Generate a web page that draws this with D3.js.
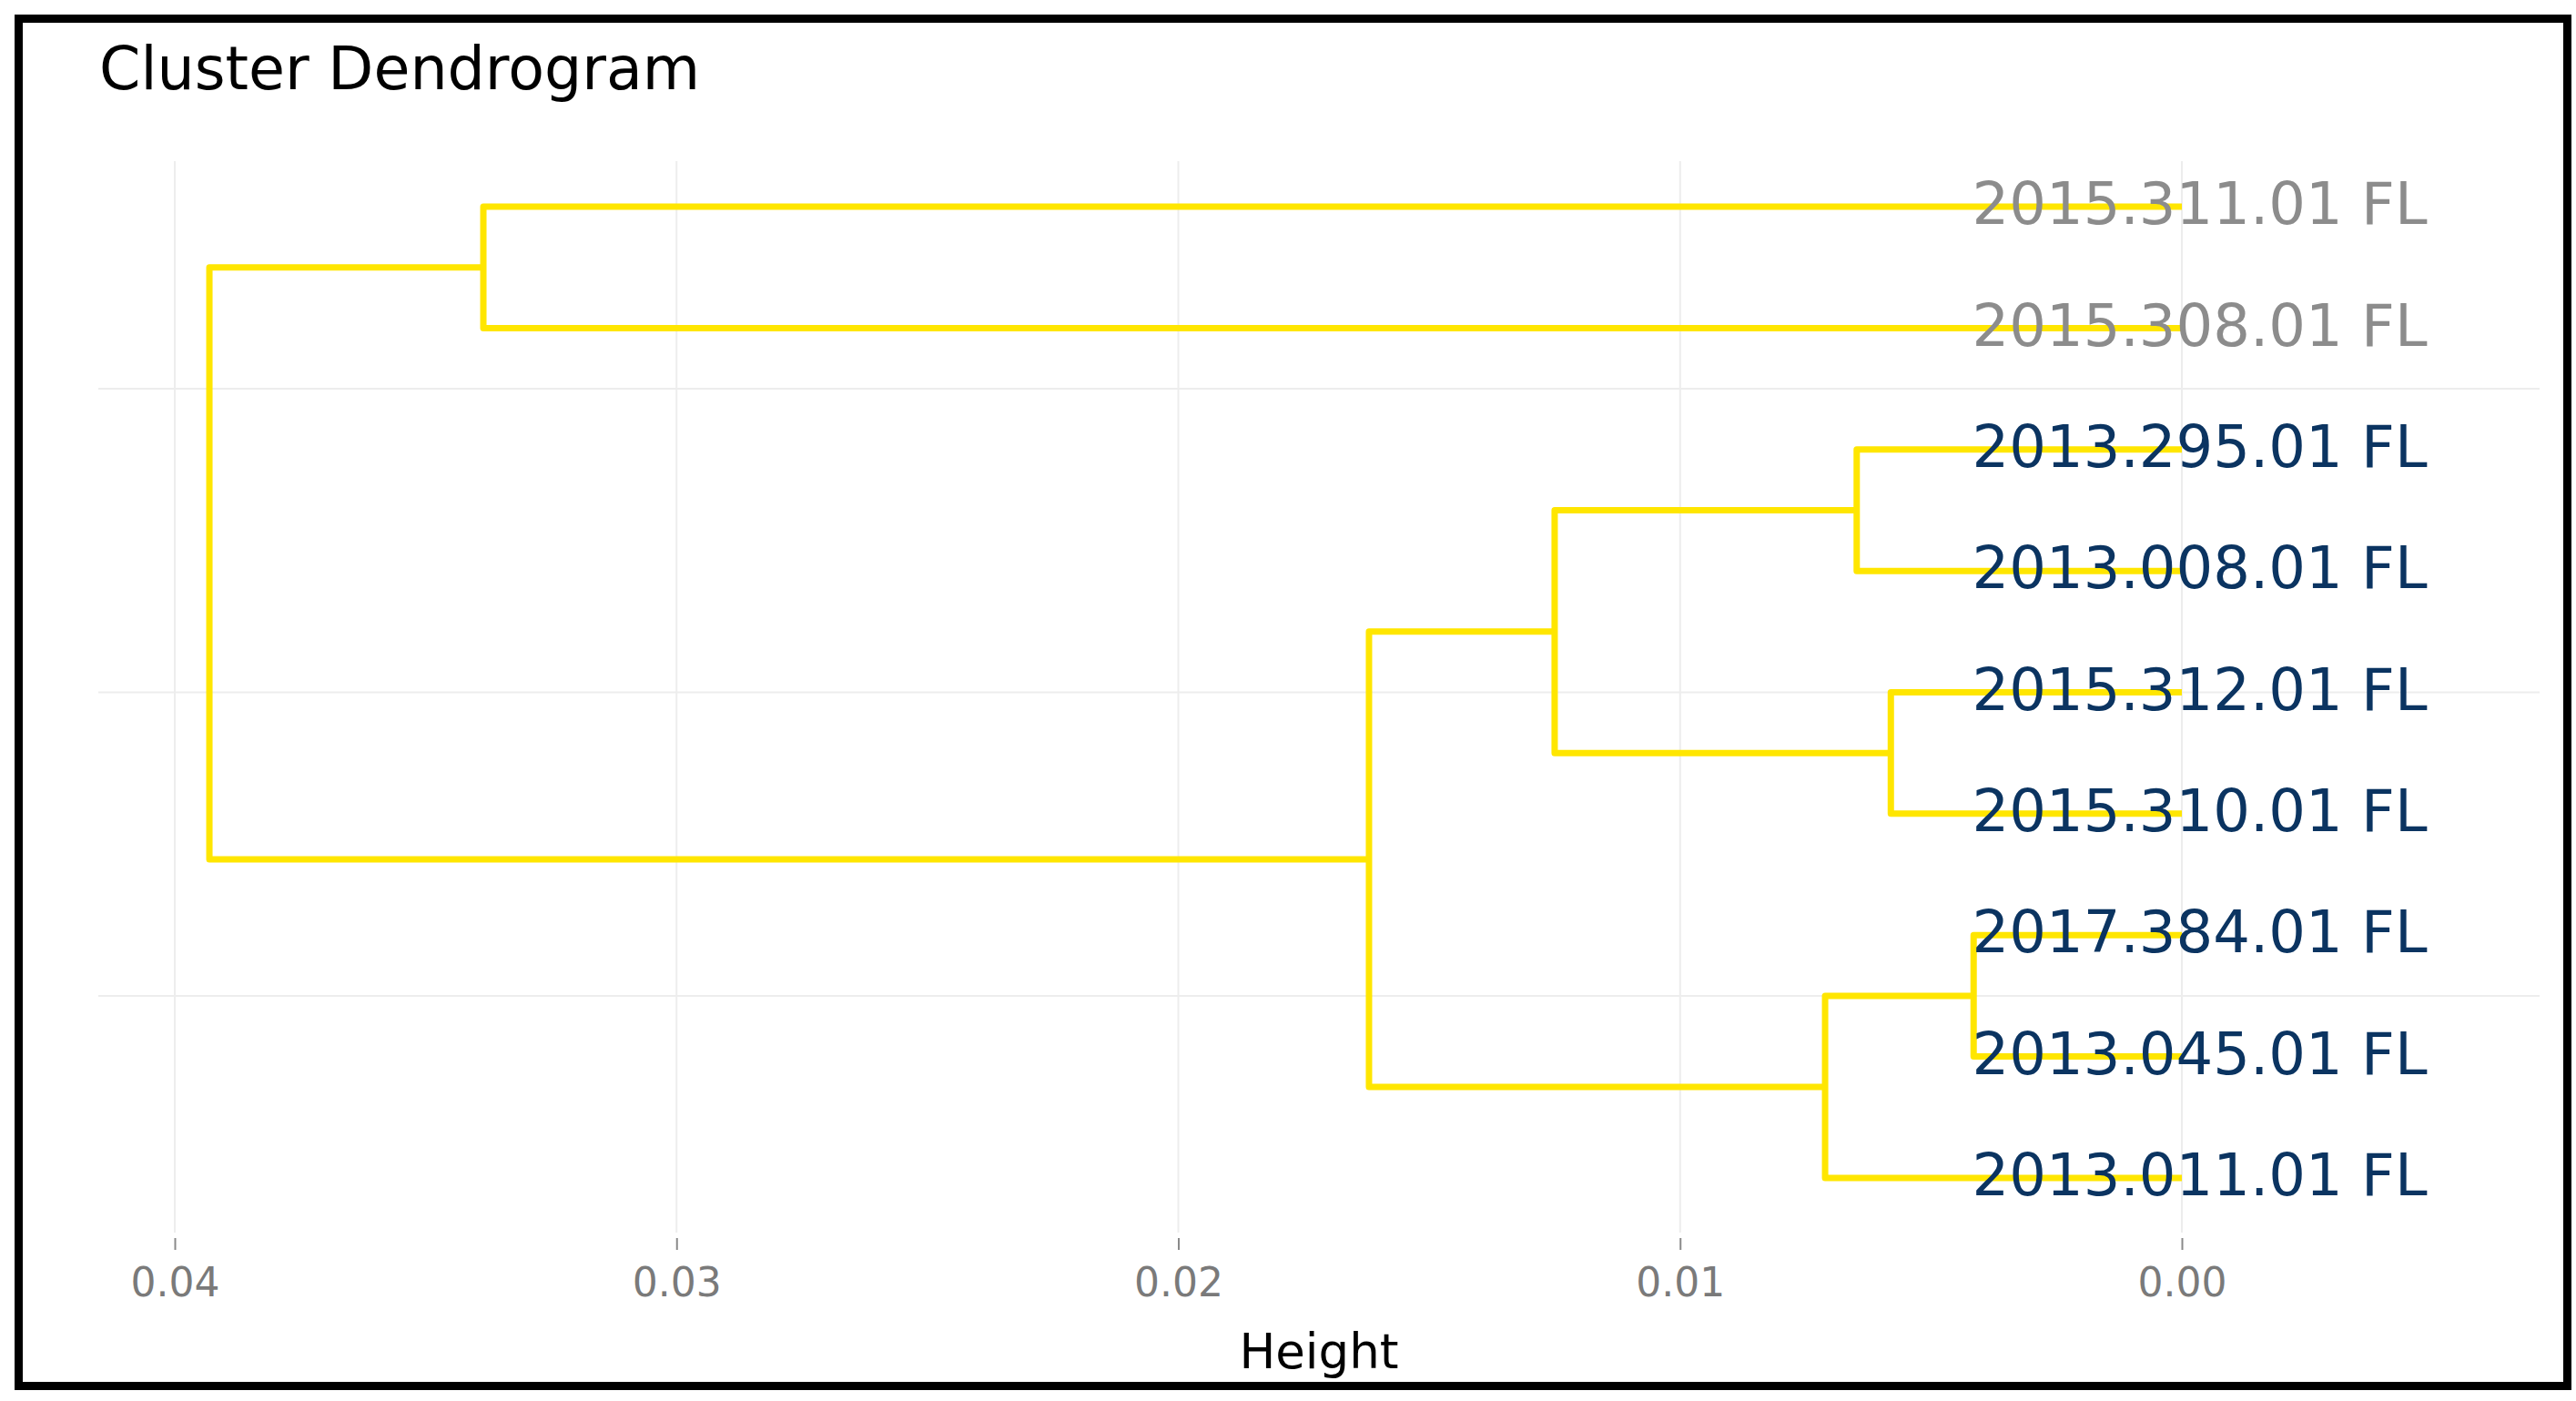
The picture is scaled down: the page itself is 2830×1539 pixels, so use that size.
<!DOCTYPE html>
<html>
<head>
<meta charset="utf-8">
<script src="https://cdn.jsdelivr.net/npm/d3@7"></script>
<style>
  body { margin: 0; background: #fff; }
  text { font-family: "DejaVu Sans", Verdana, sans-serif; }
</style>
</head>
<body>
<div id="chart"></div>
<script>
// leaves from bottom (position 1) to top (position 9)
const leafLabels = [
  "2013.011.01 FL", "2013.045.01 FL", "2017.384.01 FL",
  "2015.310.01 FL", "2015.312.01 FL", "2013.008.01 FL",
  "2013.295.01 FL", "2015.308.01 FL", "2015.311.01 FL"
];
const leafGroup = [2, 2, 2, 2, 2, 2, 2, 1, 1];

// hclust style merges: negative = leaf number, positive = earlier merge
const mergeLeft = [-3, -5, -7, 1, 3, 5, -9, 7];
const mergeRight = [-2, -4, -6, -1, 2, 4, -8, 6];
const mergeHeight = [0.00415, 0.0058, 0.00648, 0.00711, 0.0125, 0.0162, 0.03385, 0.03931];

const heightTicks = [0.04, 0.03, 0.02, 0.01, 0.0];
const positionBreaks = [2.5, 5, 7.5];

const W = 2830, H = 1539;
const panel = { left: 108, right: 2790, top: 177, bottom: 1354 };

const svg = d3.select("#chart").append("svg")
  .attr("width", W).attr("height", H);

const x = d3.scaleLinear()
  .domain([0.04, 0.0])
  .range([192, 2397]);

const y = d3.scaleLinear()
  .domain([0.55, 9.375])
  .range([panel.bottom, panel.top]);

// grid
svg.append("g").selectAll("line").data(heightTicks).enter().append("line")
  .attr("x1", d => x(d)).attr("x2", d => x(d))
  .attr("y1", panel.top).attr("y2", panel.bottom)
  .attr("stroke", "#ededed").attr("stroke-width", 2);

svg.append("g").selectAll("line").data(positionBreaks).enter().append("line")
  .attr("x1", panel.left).attr("x2", panel.right)
  .attr("y1", d => y(d)).attr("y2", d => y(d))
  .attr("stroke", "#ededed").attr("stroke-width", 2);

// node positions
const node = function (id) {
  if (id < 0) return { h: 0, p: -id };
  return nodes[id - 1];
};
const nodes = [];
mergeHeight.forEach(function (h, i) {
  const a = node(mergeLeft[i]), b = node(mergeRight[i]);
  nodes.push({ h: h, p: (a.p + b.p) / 2, a: a, b: b });
});

svg.append("g").selectAll("path").data(nodes).enter().append("path")
  .attr("d", d =>
    "M" + x(d.a.h) + "," + y(d.a.p) +
    "H" + x(d.h) + "V" + y(d.b.p) + "H" + x(d.b.h))
  .attr("fill", "none")
  .attr("stroke", "#ffe600")
  .attr("stroke-width", 7)
  .attr("stroke-linejoin", "round");

// leaf labels
svg.append("g").selectAll("text").data(leafLabels).enter().append("text")
  .attr("x", x(0.00418))
  .attr("y", (d, i) => y(i + 1))
  .attr("dy", "0.3em")
  .style("font-size", "64px")
  .style("fill", (d, i) => leafGroup[i] === 1 ? "#8c8c8c" : "#0b3461")
  .text(d => d);

// x axis
const axis = svg.append("g")
  .attr("transform", `translate(0, ${panel.bottom + 6})`)
  .call(d3.axisBottom(x).tickValues(heightTicks).tickFormat(d3.format(".2f"))
    .tickSize(13).tickPadding(20));
axis.select(".domain").remove();
axis.selectAll(".tick line").attr("stroke", "#8a8a8a").attr("stroke-width", 2);
axis.selectAll(".tick text")
  .style("font-family", "'DejaVu Sans', Verdana, sans-serif")
  .style("font-size", "44px")
  .attr("fill", "#7a7a7a");

svg.append("text")
  .attr("x", (panel.left + panel.right) / 2)
  .attr("y", 1503)
  .attr("text-anchor", "middle")
  .style("font-size", "53px")
  .style("fill", "#000")
  .text("Height");

svg.append("text")
  .attr("x", 109)
  .attr("y", 98)
  .style("font-size", "65px")
  .style("fill", "#000")
  .text("Cluster Dendrogram");

// frame
svg.append("rect")
  .attr("x", 20.5).attr("y", 20.5)
  .attr("width", 2800).attr("height", 1502)
  .attr("fill", "none")
  .attr("stroke", "#000")
  .attr("stroke-width", 9);
</script>
</body>
</html>
